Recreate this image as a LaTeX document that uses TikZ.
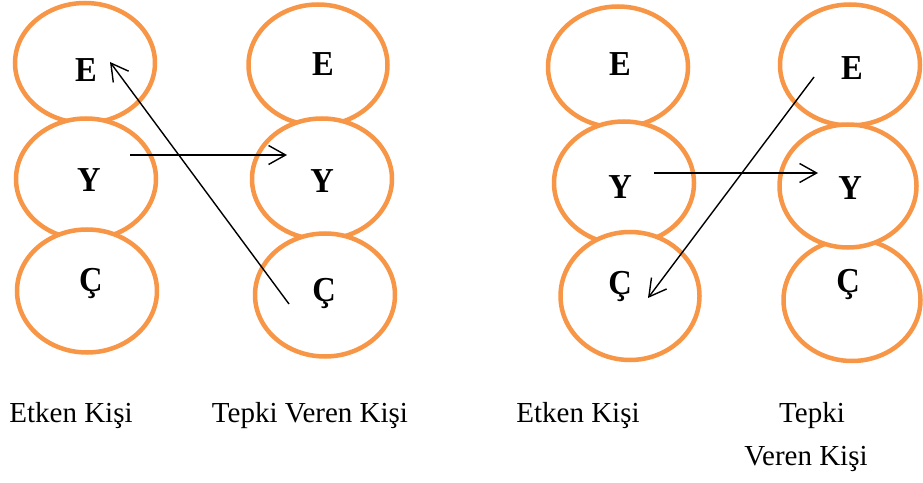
\documentclass[tikz,border=0pt]{standalone}
\usepackage{fontspec}
\setmainfont{Liberation Serif}
\usetikzlibrary{shapes.geometric,arrows.meta}
\definecolor{ringorange}{RGB}{247,150,70}
\newcommand{\bigletter}[1]{\scalebox{0.93}[1]{#1}}
\begin{document}
\begin{tikzpicture}[x=1bp,y=-1bp,
  ring/.style={draw=ringorange,line width=4.5bp,fill=white,ellipse,inner sep=0pt,outer sep=0pt},
  letter/.style={font=\fontsize{35bp}{40bp}\selectfont\bfseries,anchor=base,inner sep=0pt},
  caption/.style={font=\fontsize{29bp}{34bp}\selectfont,anchor=base,inner sep=0pt},
  arr/.style={line width=1.4bp,-{Straight Barb[length=17bp,width=19bp,line width=1.4bp]}}]
\useasboundingbox (0,0) rectangle (923,483);
% column 1
\node[ring,minimum width=140bp,minimum height=120bp] (e1) at (85,63) {};
\node[ring,minimum width=140bp,minimum height=121bp] (y1) at (86,179) {};
\node[ring,minimum width=140bp,minimum height=123bp] (c1) at (87,291) {};
% column 2
\node[ring,minimum width=139bp,minimum height=121bp] (e2) at (318,65) {};
\node[ring,minimum width=140bp,minimum height=121bp] (y2) at (322,179) {};
\node[ring,minimum width=140bp,minimum height=123bp] (c2) at (325,295) {};
% column 3
\node[ring,minimum width=140bp,minimum height=121bp] (e3) at (618,67) {};
\node[ring,minimum width=140bp,minimum height=123bp] (y3) at (624,183) {};
\node[ring,minimum width=139bp,minimum height=128bp] (c3) at (630,296) {};
% column 4
\node[ring,minimum width=140bp,minimum height=121bp] (e4) at (850,65) {};
\node[ring,minimum width=137bp,minimum height=122bp] (c4) at (852,300) {};
\node[ring,minimum width=137bp,minimum height=123bp] (y4) at (848,186) {};
% letters
\node[letter] (le1) at (86,82) {\bigletter{E}};
\node[letter] (ly1) at (89,192) {\bigletter{Y}};
\node[letter] (lc1) at (91,292) {\bigletter{Ç}};
\node[letter] (le2) at (323,76) {\bigletter{E}};
\node[letter] (ly2) at (322,193) {\bigletter{Y}};
\node[letter] (lc2) at (324,302) {\bigletter{Ç}};
\node[letter] (le3) at (620,76) {\bigletter{E}};
\node[letter] (ly3) at (620,199) {\bigletter{Y}};
\node[letter] (lc3) at (620,295) {\bigletter{Ç}};
\node[letter] (le4) at (852,80) {\bigletter{E}};
\node[letter] (ly4) at (850,200) {\bigletter{Y}};
\node[letter] (lc4) at (848,293) {\bigletter{Ç}};
% arrow end points
\coordinate (a1s) at (130,155);
\coordinate (a1e) at (287,155);
\coordinate (a2s) at (289,304);
\coordinate (a2e) at (110,62);
\coordinate (a3s) at (654,173);
\coordinate (a3e) at (818,173);
\coordinate (a4s) at (814,77);
\coordinate (a4e) at (648,298);
\draw[arr] (a1s) -- (a1e);
\draw[arr] (a2s) -- (a2e);
\draw[arr] (a3s) -- (a3e);
\draw[arr] (a4s) -- (a4e);
% captions
\node[caption] (t1) at (71,422) {Etken Kişi};
\node[caption] (t2) at (310,422) {Tepki Veren Kişi};
\node[caption] (t3) at (578,422) {Etken Kişi};
\node[caption] (t4) at (812,422) {Tepki};
\node[caption] (t5) at (806,465) {Veren Kişi};
\end{tikzpicture}
\end{document}
